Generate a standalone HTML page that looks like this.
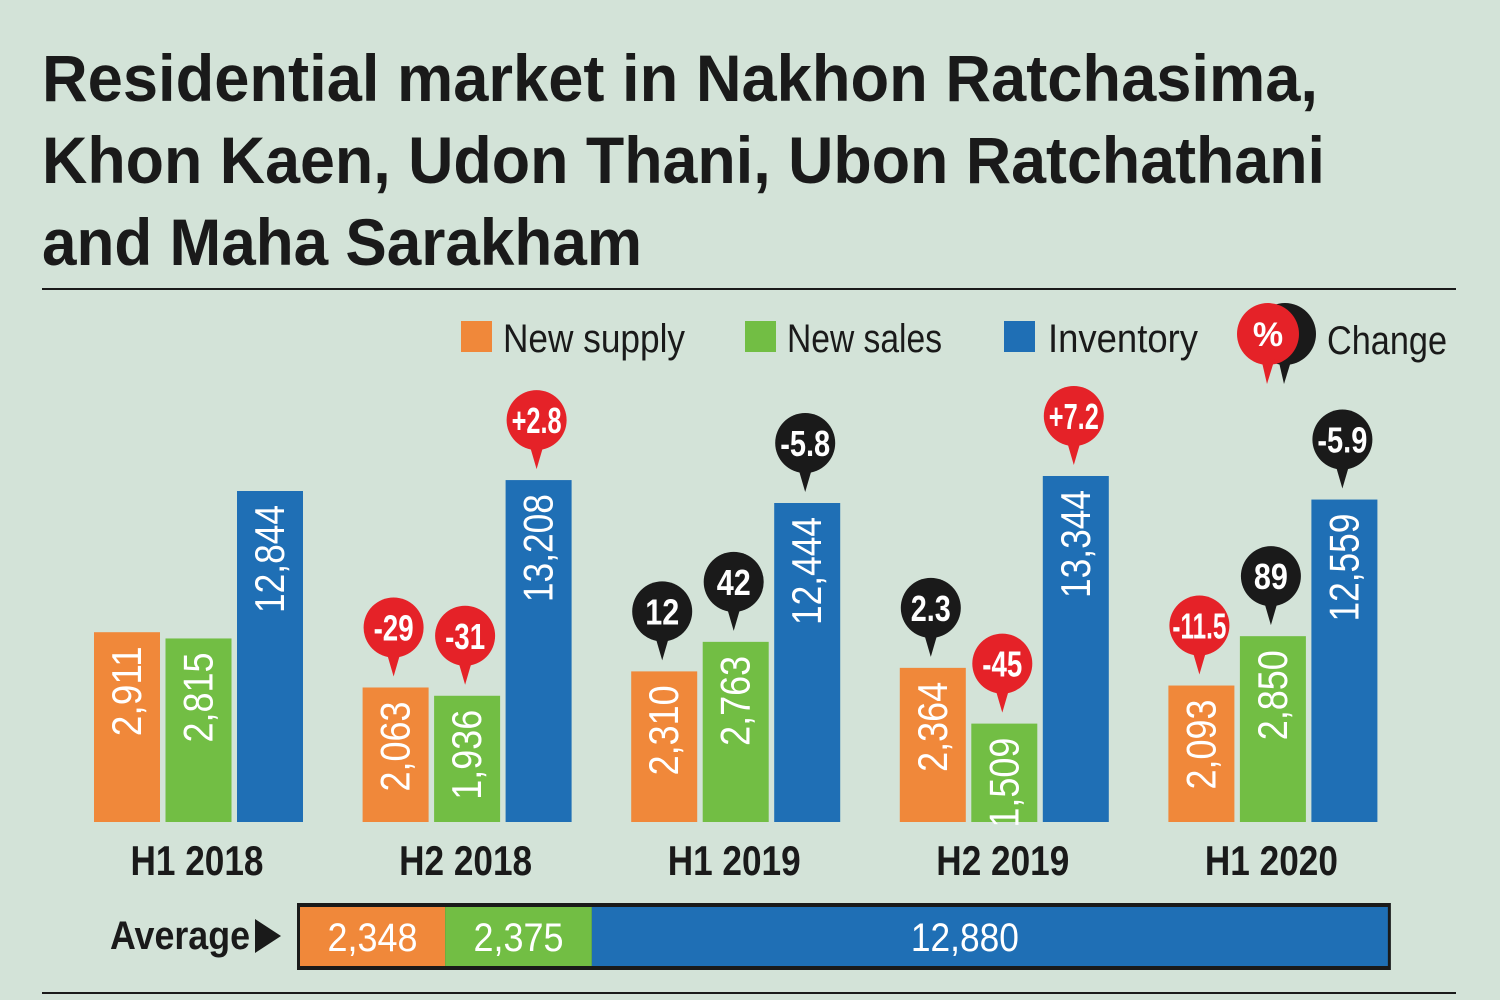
<!DOCTYPE html>
<html><head><meta charset="utf-8"><style>
body{margin:0;background:#d3e3d8;}
svg{display:block;font-family:"Liberation Sans Narrow","Liberation Sans",sans-serif;}
</style></head><body>
<svg id="chart" width="1500" height="1000" viewBox="0 0 1500 1000">
<rect width="1500" height="1000" fill="#d3e3d8"/>
<g font-weight="bold" font-size="66" fill="#1a1a1a">
<text x="42" y="101" textLength="1276" lengthAdjust="spacingAndGlyphs">Residential market in Nakhon Ratchasima,</text>
<text x="42" y="183" textLength="1283" lengthAdjust="spacingAndGlyphs">Khon Kaen, Udon Thani, Ubon Ratchathani</text>
<text x="42" y="265" textLength="600" lengthAdjust="spacingAndGlyphs">and Maha Sarakham</text>
</g>
<rect x="42" y="288" width="1414" height="2" fill="#1a1a1a"/>
<g font-size="40" fill="#1a1a1a">
<rect x="461" y="321" width="31" height="31" fill="#f0883a"/>
<text x="503" y="352" textLength="182" lengthAdjust="spacingAndGlyphs">New supply</text>
<rect x="745" y="321" width="31" height="31" fill="#72be44"/>
<text x="787" y="352" textLength="155" lengthAdjust="spacingAndGlyphs">New sales</text>
<rect x="1004" y="321" width="31" height="31" fill="#1f6fb5"/>
<text x="1048" y="352" textLength="150" lengthAdjust="spacingAndGlyphs">Inventory</text>
<g>
<circle cx="1285" cy="334" r="31" fill="#1a1a1a"/><polygon points="1278,358 1292,358 1284,384" fill="#1a1a1a"/>
<circle cx="1268" cy="334" r="31" fill="#e52228"/><polygon points="1261,358 1275,358 1267,384" fill="#e52228"/>
<text x="1268" y="346" font-size="34" font-weight="bold" fill="#fff" text-anchor="middle">%</text>
</g>
<text x="1327" y="354" textLength="120" lengthAdjust="spacingAndGlyphs">Change</text>
</g>
<g id="bars"></g>
<g id="avg"></g>
<rect x="42" y="992" width="1414" height="2" fill="#1a1a1a"/>
</svg>
<script>
const periods = ["H1 2018","H2 2018","H1 2019","H2 2019","H1 2020"];
const newSupply = [2911, 2063, 2310, 2364, 2093];
const newSales = [2815, 1936, 2763, 1509, 2850];
const inventory = [12844, 13208, 12444, 13344, 12559];
const supplyChange = [null, "-29", "12", "2.3", "-11.5"];
const salesChange = [null, "-31", "42", "-45", "89"];
const inventoryChange = [null, "+2.8", "-5.8", "+7.2", "-5.9"];
const supplyChangeColor = [null, "red", "black", "black", "red"];
const salesChangeColor = [null, "red", "black", "red", "black"];
const inventoryChangeColor = [null, "red", "black", "red", "black"];
const averages = [2348, 2375, 12880];
const averageLabels = ["2,348", "2,375", "12,880"];

const NS = "http://www.w3.org/2000/svg";
const baseline = 822;
function yFlow(v){ return baseline - 0.0652 * v; }
function yInv(v){ return baseline - (319 + 0.03 * (v - 12444)); }
function xGroup(i){ return 94 + i * 268.6; }
function avgW(v){ return v * 0.0618; }
const colors = ["#f0883a","#72be44","#1f6fb5"];
const bubbleFill = {red:"#e52228", black:"#1a1a1a"};
function el(tag, attrs, parent){ const e=document.createElementNS(NS,tag); for(const k in attrs) e.setAttribute(k,attrs[k]); parent.appendChild(e); return e; }
function fmt(v){ return v.toLocaleString("en-US"); }
const g = document.getElementById("bars");
const series = [
 {vals:newSupply, ch:supplyChange, cc:supplyChangeColor, y:yFlow, name:"new-supply"},
 {vals:newSales, ch:salesChange, cc:salesChangeColor, y:yFlow, name:"new-sales"},
 {vals:inventory, ch:inventoryChange, cc:inventoryChangeColor, y:yInv, name:"inventory"}];
periods.forEach((p,i)=>{
  const x0 = xGroup(i);
  series.forEach((s,j)=>{
    const x = x0 + j*71.5, w = 66, top = s.y(s.vals[i]);
    const r = el("rect",{x:x,y:top,width:w,height:baseline-top,fill:colors[j]},g);
    
    
    const cx = x + w/2 + 14, ty = top + 14;
    const label = fmt(s.vals[i]);
    const t = el("text",{x:cx,y:ty,fill:"#fff","font-size":42,"text-anchor":"end",textLength:label.length*18,lengthAdjust:"spacingAndGlyphs",transform:`rotate(-90 ${cx} ${ty})`},g);
    t.textContent = label;
    
    
    if(s.ch[i]!==null){
      const bg = el("g",{},g);
      
      
      const f = bubbleFill[s.cc[i]], by = top - 60, bx = x + w/2;
      el("circle",{cx:bx-2,cy:by,r:30,fill:f},bg);
      el("polygon",{points:`${bx-9},${by+25} ${bx+5},${by+25} ${bx-2},${top-11}`,fill:f},bg);
      const len = s.ch[i].length;
      const tl = len===2 ? 34 : (len===3 ? 40 : (len===4 ? 50 : 54));
      const bt = el("text",{x:bx-2,y:by+13,fill:"#fff","font-size":36,"font-weight":"bold","text-anchor":"middle",textLength:tl,lengthAdjust:"spacingAndGlyphs"},bg);
      bt.textContent = s.ch[i];
    }
  });
  const lt = el("text",{x:x0+103,y:875,"font-size":42,"font-weight":"bold",fill:"#1a1a1a","text-anchor":"middle",textLength:133,lengthAdjust:"spacingAndGlyphs"},g);
  lt.textContent = p;
  
  
});
const a = document.getElementById("avg");
const al = el("text",{x:110,y:949,"font-size":40,"font-weight":"bold",fill:"#1a1a1a",textLength:140,lengthAdjust:"spacingAndGlyphs"},a);
al.textContent = "Average";


el("polygon",{points:"255,919 255,953 281,936",fill:"#1a1a1a"},a);
let ax = 300;
const tot = averages.reduce((s,v)=>s+avgW(v),0);
el("rect",{x:297,y:903,width:tot+6,height:67,fill:"#1a1a1a"},a);
averages.forEach((v,k)=>{
  const w = avgW(v);
  const r = el("rect",{x:ax,y:907,width:w,height:59,fill:colors[k]},a);
  
  
  const lbl = averageLabels[k];
  const cxx = k===2 ? ax + w/2 - 25 : ax + w/2;
  const t = el("text",{x:cxx,y:951,"font-size":40,fill:"#fff","text-anchor":"middle",textLength:lbl.length*18,lengthAdjust:"spacingAndGlyphs"},a);
  t.textContent = lbl;
  
  
  ax += w;
});
</script>
</body></html>
